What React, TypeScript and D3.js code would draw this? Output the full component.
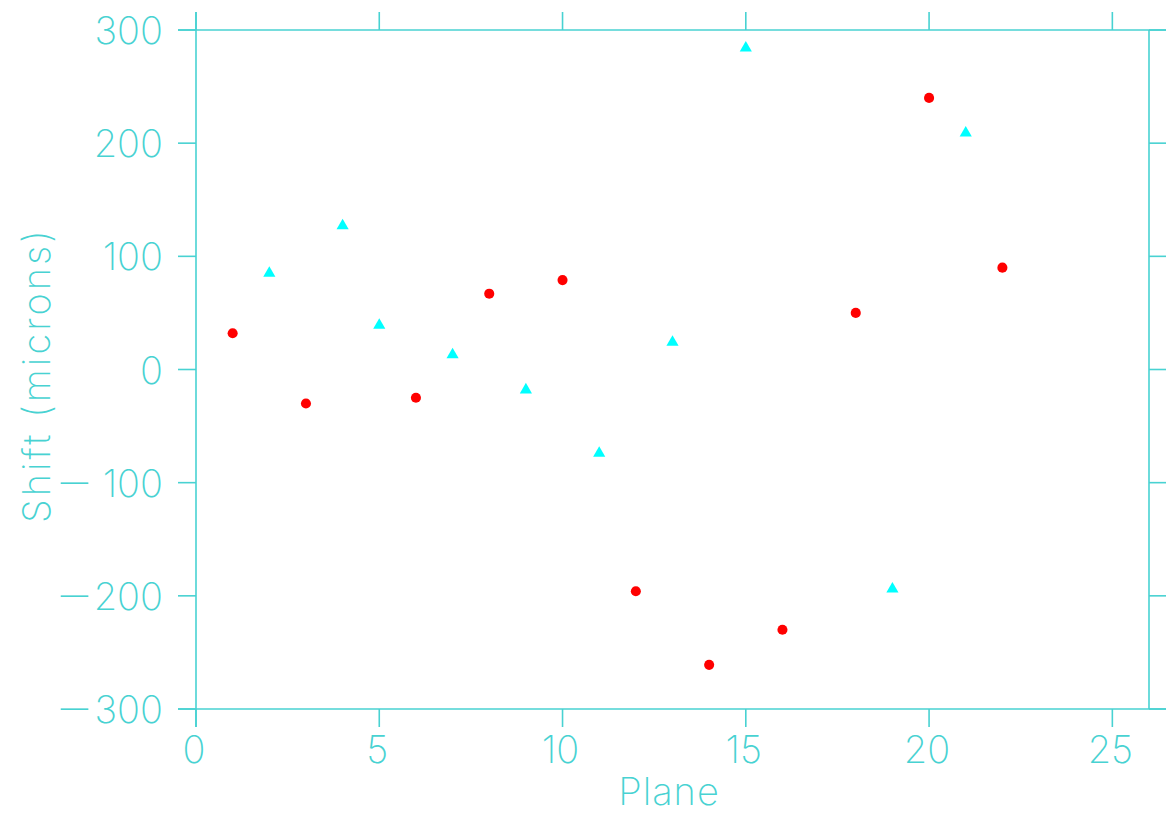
import React from "react";
import * as d3 from "d3";

// red circles
const circleX = [1, 3, 6, 8, 10, 12, 14, 16, 18, 20, 22];
const circleY = [32, -30, -25, 67, 79, -196, -261, -230, 50, 240, 90];

// cyan triangles
const triX = [2, 4, 5, 7, 9, 11, 13, 15, 19, 21];
const triY = [85, 127, 39, 13, -18, -74, 24, 284, -194, 209];

const xTicks = [0, 5, 10, 15, 20, 25];
const yTicks = [-300, -200, -100, 0, 100, 200, 300];

const W = 1166;
const H = 814;
const axisColor = "#48d2d2";
const font = "Inter, 'Noto Sans', 'DejaVu Sans', sans-serif";

export default function App() {
  const left = 196, right = 1149, top = 30, bottom = 709;
  const x = d3.scaleLinear().domain([0, 26]).range([left, right]);
  const y = d3.scaleLinear().domain([-300, 300]).range([bottom, top]);
  const tick = 18;

  const tri = d3.symbol().type(d3.symbolTriangle).size(64)();
  const dot = d3.symbol().type(d3.symbolCircle).size(80)();

  return (
    <svg width={W} height={H} style={{ position: "absolute", left: 0, top: 0 }}>
      <rect width={W} height={H} fill="#fff" />
      <g stroke={axisColor} strokeWidth={1.6} fill="none">
        {/* frame, lines overshoot like the original */}
        <line x1={left - tick} x2={W} y1={top} y2={top} />
        <line x1={left - tick} x2={W} y1={bottom} y2={bottom} />
        <line x1={left} x2={left} y1={top - tick} y2={bottom + tick} />
        <line x1={right} x2={right} y1={top} y2={bottom} />
        {xTicks.map(t => (
          <g key={"xt" + t}>
            <line x1={x(t)} x2={x(t)} y1={top - tick} y2={top} />
            <line x1={x(t)} x2={x(t)} y1={bottom} y2={bottom + tick} />
          </g>
        ))}
        {yTicks.map(t => (
          <g key={"yt" + t}>
            <line x1={left - tick} x2={left} y1={y(t)} y2={y(t)} />
            <line x1={right} x2={W} y1={y(t)} y2={y(t)} />
          </g>
        ))}
      </g>
      <g fill={axisColor} fontFamily={font} fontWeight={200} fontSize={38}>
        {xTicks.map(t => (
          <text key={"xl" + t} x={x(t) - 2} y={763} textAnchor="middle">{t}</text>
        ))}
        {yTicks.map(t => (
          <g key={"yl" + t}>
            <text x={163} y={y(t) + 14} textAnchor="end">{Math.abs(t)}</text>
            {t < 0 && (
              <text transform={`translate(74.5,${y(t) + 11}) scale(1.7,1)`} textAnchor="middle">
                {"\u2212"}
              </text>
            )}
          </g>
        ))}
        <text x={669} y={805} textAnchor="middle" letterSpacing={1}>Plane</text>
        <text transform="translate(50,375) rotate(-90)" textAnchor="middle" letterSpacing={3}>
          Shift  (microns)
        </text>
      </g>
      {circleX.map((v, i) => (
        <path key={"c" + i} d={dot} transform={`translate(${x(v)},${y(circleY[i])})`} fill="#ff0000" />
      ))}
      {triX.map((v, i) => (
        <path key={"t" + i} d={tri} transform={`translate(${x(v)},${y(triY[i])})`} fill="#00ffff" />
      ))}
    </svg>
  );
}
